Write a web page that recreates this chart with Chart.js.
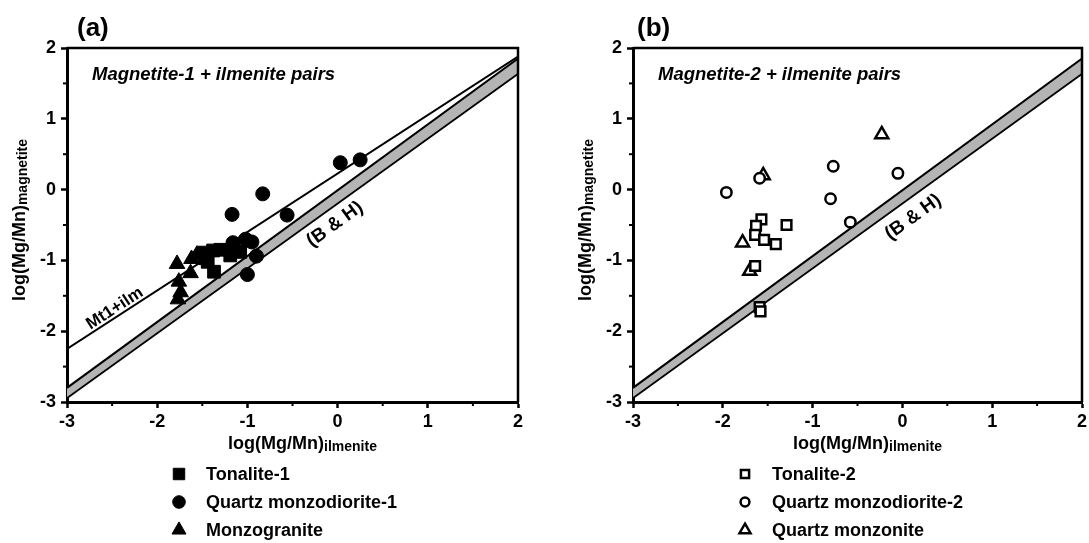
<!DOCTYPE html>
<html lang="en">
<head>
  <meta charset="UTF-8">
  <title>log(Mg/Mn) magnetite vs ilmenite</title>
  <script src="https://cdn.jsdelivr.net/npm/chart.js"></script>
  <style>
    html, body {
      margin: 0;
      padding: 0;
      background: #fff;
      overflow: hidden;
    }

    .panel {
      position: absolute;
      top: 0;
      height: 543px;
    }

    #panelA { left: 0; width: 545px; }
    #panelB { left: 545px; width: 555px; }
  </style>
</head>
<body>
  <div class="panel" id="panelA"><canvas id="chartA"></canvas></div>
  <div class="panel" id="panelB"><canvas id="chartB"></canvas></div>

  <script>
    // axis ticks
    const tickValues = [-3, -2, -1, 0, 1, 2];
    const minorTickValues = [-2.5, -1.5, -0.5, 0.5, 1.5];

    // reference lines, end points at x = -3 and x = 2
    const lineX = [-3, 2];
    const mt1IlmY = [-2.25, 1.88];
    const bhUpperY = [-2.80, 1.85];
    const bhLowerY = [-2.93, 1.65];

    // (a) magnetite-1 + ilmenite
    const tonalite1X = [-1.49, -1.38, -1.30, -1.44, -1.37, -1.19, -1.08, -1.47, -1.15];
    const tonalite1Y = [-0.89, -0.86, -0.85, -1.02, -1.16, -0.93, -0.88, -0.97, -0.84];
    const qmd1X = [0.03, 0.25, -0.83, -1.17, -0.56, -1.16, -1.02, -0.95, -0.90, -1.00];
    const qmd1Y = [0.38, 0.42, -0.06, -0.35, -0.36, -0.75, -0.70, -0.74, -0.94, -1.20];
    const monzograniteX = [-1.78, -1.62, -1.56, -1.63, -1.76, -1.74, -1.77];
    const monzograniteY = [-1.05, -0.98, -0.92, -1.18, -1.30, -1.45, -1.55];

    // (b) magnetite-2 + ilmenite
    const tonalite2X = [-1.57, -1.63, -1.64, -1.54, -1.41, -1.29, -1.64, -1.59, -1.58];
    const tonalite2Y = [-0.42, -0.51, -0.64, -0.71, -0.77, -0.50, -1.08, -1.66, -1.72];
    const qmd2X = [-1.96, -1.59, -0.77, -0.80, -0.58, -0.05];
    const qmd2Y = [-0.04, 0.16, 0.33, -0.13, -0.46, 0.23];
    const qmX = [-0.23, -1.55, -1.78, -1.70];
    const qmY = [0.78, 0.20, -0.75, -1.15];

    const FONT = '"Liberation Sans", Arial, Helvetica, sans-serif';

    function pts(xs, ys) {
      return xs.map((x, i) => ({ x: x, y: ys[i] }));
    }

    function pointSet(label, xs, ys, style, radius, filled) {
      return {
        label: label,
        data: pts(xs, ys),
        pointStyle: style,
        pointRadius: radius,
        pointBackgroundColor: filled ? '#000' : '#fff',
        pointBorderColor: '#000',
        pointBorderWidth: filled ? 1 : 2.5,
        order: 0
      };
    }

    function lineSet(ys, width, fill) {
      return {
        data: pts(lineX, ys),
        showLine: true,
        borderColor: '#000',
        borderWidth: width,
        pointRadius: 0,
        backgroundColor: '#b4b4b4',
        fill: fill,
        order: 10
      };
    }

    function subText(ctx, main, sub, x, y, align) {
      ctx.font = 'bold 18px ' + FONT;
      const w1 = ctx.measureText(main).width;
      ctx.font = 'bold 14px ' + FONT;
      const w2 = ctx.measureText(sub).width;
      let sx = align === 'center' ? x - (w1 + w2) / 2 : x;
      ctx.textAlign = 'left';
      ctx.textBaseline = 'alphabetic';
      ctx.font = 'bold 18px ' + FONT;
      ctx.fillText(main, sx, y);
      ctx.font = 'bold 14px ' + FONT;
      ctx.fillText(sub, sx + w1, y + 2);
    }

    function lineAngle(xs, ys, sx, sy) {
      const dx = sx.getPixelForValue(xs[1]) - sx.getPixelForValue(xs[0]);
      const dy = sy.getPixelForValue(ys[1]) - sy.getPixelForValue(ys[0]);
      return Math.atan2(dy, dx);
    }

    const decorPlugin = {
      id: 'decor',
      afterDraw(chart, args, o) {
        const { ctx, chartArea: a, scales: { x, y } } = chart;
        ctx.save();
        ctx.fillStyle = '#000';
        ctx.strokeStyle = '#000';

        // top and right frame
        ctx.lineWidth = 2.5;
        ctx.beginPath();
        ctx.moveTo(a.left, a.top);
        ctx.lineTo(a.right, a.top);
        ctx.lineTo(a.right, a.bottom);
        ctx.stroke();

        // minor ticks
        ctx.lineWidth = 2;
        minorTickValues.forEach(v => {
          const px = x.getPixelForValue(v);
          ctx.beginPath();
          ctx.moveTo(px, a.bottom);
          ctx.lineTo(px, a.bottom + 4);
          ctx.stroke();
          const py = y.getPixelForValue(v);
          ctx.beginPath();
          ctx.moveTo(a.left, py);
          ctx.lineTo(a.left - 4, py);
          ctx.stroke();
        });

        // panel letter
        ctx.font = 'bold 26px ' + FONT;
        ctx.textAlign = 'left';
        ctx.textBaseline = 'alphabetic';
        ctx.fillText(o.letter, a.left + o.letterDx, 36);

        // inner title
        ctx.font = 'italic bold 18.5px ' + FONT;
        ctx.fillText(o.title, a.left + 25, 80);

        // axis titles
        subText(ctx, 'log(Mg/Mn)', 'ilmenite', (a.left + a.right) / 2 + 10, 449, 'center');
        ctx.save();
        ctx.translate(a.left - 42, (a.top + a.bottom) / 2 - 5);
        ctx.rotate(-Math.PI / 2);
        subText(ctx, 'log(Mg/Mn)', 'magnetite', 0, 0, 'center');
        ctx.restore();

        // line labels
        o.lineLabels.forEach(l => {
          const ang = lineAngle(lineX, l.ys, x, y);
          ctx.save();
          ctx.translate(x.getPixelForValue(l.x), y.getPixelForValue(l.y));
          ctx.rotate(ang);
          ctx.font = l.font;
          ctx.textAlign = 'center';
          ctx.textBaseline = 'middle';
          ctx.fillText(l.text, 0, 0);
          ctx.restore();
        });

        // legend
        const sets = chart.data.datasets.filter(d => d.label);
        sets.forEach((d, i) => {
          const ly = 474 + i * 28;
          ctx.fillStyle = d.pointBackgroundColor;
          ctx.strokeStyle = '#000';
          ctx.lineWidth = d.pointBorderWidth;
          Chart.helpers.drawPoint(ctx, {
            pointStyle: d.pointStyle,
            radius: d.pointRadius * o.legendScale,
            rotation: 0,
            borderWidth: d.pointBorderWidth
          }, a.left + o.legendDx, ly);
          ctx.fillStyle = '#000';
          ctx.font = 'bold 18px ' + FONT;
          ctx.textAlign = 'left';
          ctx.textBaseline = 'middle';
          ctx.fillText(d.label, a.left + o.legendDx + 27, ly + 1);
        });
        ctx.restore();
      }
    };

    function axis(widthOrHeight, horizontal) {
      return {
        type: 'linear',
        min: -3,
        max: 2,
        afterBuildTicks: s => { s.ticks = tickValues.map(v => ({ value: v })); },
        afterFit: s => {
          if (horizontal) s.height = widthOrHeight; else s.width = widthOrHeight;
        },
        grid: {
          display: true,
          drawOnChartArea: false,
          drawTicks: true,
          tickLength: 6,
          tickWidth: 2.5,
          tickColor: '#000'
        },
        border: { display: true, width: 3, color: '#000' },
        ticks: {
          color: '#000',
          padding: horizontal ? 3 : 5,
          font: { family: FONT, size: 18, weight: 'bold' },
          callback: v => String(v)
        }
      };
    }

    function makeChart(id, datasets, yWidth, padRight, deco) {
      return new Chart(document.getElementById(id), {
        type: 'scatter',
        data: { datasets: datasets },
        options: {
          responsive: true,
          maintainAspectRatio: false,
          animation: false,
          events: [],
          layout: { padding: { left: 0, top: 48, right: padRight, bottom: 0 } },
          scales: {
            x: axis(141, true),
            y: axis(yWidth, false)
          },
          plugins: {
            legend: { display: false },
            tooltip: { enabled: false },
            decor: deco
          }
        },
        plugins: [decorPlugin]
      });
    }

    makeChart('chartA', [
      pointSet('Tonalite-1', tonalite1X, tonalite1Y, 'rect', 9, true),
      pointSet('Quartz monzodiorite-1', qmd1X, qmd1Y, 'circle', 7, true),
      pointSet('Monzogranite', monzograniteX, monzograniteY, 'triangle', 9, true),
      lineSet(mt1IlmY, 2, false),
      lineSet(bhUpperY, 2, '+1'),
      lineSet(bhLowerY, 3.5, false)
    ], 67, 27, {
      letter: '(a)',
      letterDx: 10,
      title: 'Magnetite-1 + ilmenite pairs',
      legendDx: 112,
      legendScale: 0.9,
      lineLabels: [
        { text: 'Mt1+ilm', x: -2.47, y: -1.68, ys: mt1IlmY, font: 'bold 17px ' + FONT },
        { text: '(B & H)', x: -0.03, y: -0.49, ys: bhLowerY, font: 'bold 19px ' + FONT }
      ]
    });

    makeChart('chartB', [
      pointSet('Tonalite-2', tonalite2X, tonalite2Y, 'rect', 6.8, false),
      pointSet('Quartz monzodiorite-2', qmd2X, qmd2Y, 'circle', 5.2, false),
      pointSet('Quartz monzonite', qmX, qmY, 'triangle', 7.5, false),
      lineSet(bhUpperY, 2, '+1'),
      lineSet(bhLowerY, 3.5, false)
    ], 88, 18, {
      letter: '(b)',
      letterDx: 4,
      title: 'Magnetite-2 + ilmenite pairs',
      legendDx: 112,
      legendScale: 0.85,
      lineLabels: [
        { text: '(B & H)', x: 0.12, y: -0.39, ys: bhLowerY, font: 'bold 19px ' + FONT }
      ]
    });
  </script>
</body>
</html>
